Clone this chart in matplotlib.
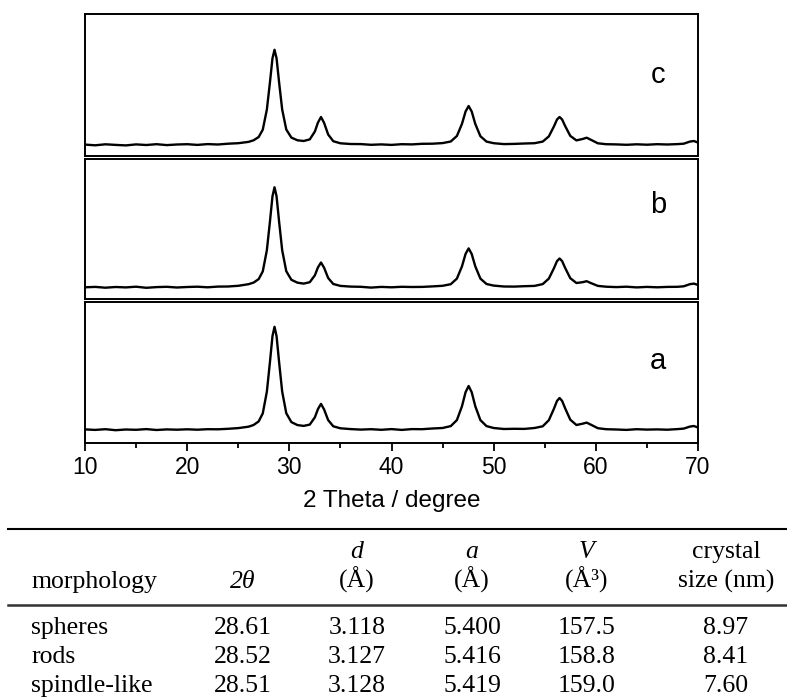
import matplotlib
matplotlib.use("Agg")
import matplotlib.pyplot as plt
from matplotlib.lines import Line2D
from matplotlib.ticker import MultipleLocator

plt.rcParams["font.family"] = ["Liberation Sans", "DejaVu Sans"]

# XRD patterns (intensity in arbitrary units, baseline = 0)
two_theta = [
    10, 11, 12, 13, 14, 15, 16, 17, 18, 19, 20, 21, 22, 23, 24, 25,
    26, 26.5, 27, 27.4, 27.8, 28.1, 28.35, 28.55, 28.75, 29.0, 29.3, 29.7,
    30.2, 30.8, 31.4, 32.0, 32.5, 32.8, 33.1, 33.4, 33.8, 34.3, 35, 36,
    37, 38, 39, 40, 41, 42, 43, 44,
    45, 45.8, 46.4, 46.9, 47.25, 47.55, 47.85, 48.2, 48.7, 49.3, 50, 51,
    52, 53, 54,
    54.8, 55.4, 55.9, 56.2, 56.45, 56.7, 57.0, 57.5, 58.1, 58.7, 59.1, 59.5, 60.2, 61,
    62, 63, 64, 65, 66, 67, 68,
    68.6, 69.2, 69.6, 70,
]
inten_c = [
    0.4, -0.3, 0.7, 0.1, -0.4, 0.6, 0.0, 0.8, -0.1, 0.5, 0.8, 0.1, 0.9, 0.5, 1.3, 1.8,
    3.1, 4.7, 8.0, 15.3, 35.4, 62.4, 86.7, 95.2, 86.7, 62.5, 35.5, 15.5,
    7.4, 4.7, 4.0, 5.6, 13.5, 22.4, 28.0, 22.2, 10.5, 3.8, 1.7, 1.0,
    0.9, 0.2, 0.6, 0.1, 0.8, 0.6, 1.2, 1.3,
    1.9, 3.5, 9.0, 21.2, 33.5, 39.0, 33.5, 21.1, 8.8, 3.4, 1.8, 0.9,
    1.1, 1.5, 1.8,
    3.4, 8.6, 18.6, 25.5, 28.0, 25.5, 18.9, 9.1, 4.6, 6.0, 7.3, 5.3, 1.7, 0.8,
    0.6, 0.2, 0.7, 0.3, 0.8, 0.5, 0.9,
    1.3, 3.4, 4.0, 2.4,
]
inten_b = [
    0.2, 0.6, -0.2, 0.5, 0.1, 0.8, -0.3, 0.4, 0.7, 0.0, 0.5, 0.8, 0.2, 0.9, 1.0, 1.7,
    3.3, 4.9, 8.4, 16.1, 37.2, 65.7, 91.2, 100.2, 91.2, 65.7, 37.3, 16.3,
    7.7, 4.8, 3.9, 5.3, 12.2, 20.1, 25.0, 19.8, 9.5, 3.5, 1.6, 0.9,
    0.7, -0.1, 0.6, 0.2, 0.7, 0.5, 0.6, 1.1,
    1.7, 3.3, 8.9, 21.2, 33.6, 39.1, 33.5, 21.2, 8.9, 3.5, 1.9, 1.0,
    0.9, 1.3, 1.6,
    3.4, 8.9, 19.3, 26.4, 29.0, 26.4, 19.5, 9.3, 4.5, 5.3, 6.3, 4.5, 1.6, 0.8,
    0.4, 0.8, 0.1, 0.6, 0.2, 0.6, 0.7,
    1.2, 3.3, 3.9, 2.5,
]
inten_a = [
    0.6, 0.1, 0.8, -0.2, 0.5, 0.2, 0.9, 0.0, 0.6, 0.3, 0.7, 0.3, 0.8, 0.7, 1.2, 1.9,
    3.3, 5.0, 8.6, 16.6, 38.3, 67.7, 93.9, 103.2, 93.9, 67.7, 38.4, 16.8,
    7.9, 4.9, 4.1, 5.4, 12.7, 20.9, 26.1, 20.6, 9.9, 3.7, 1.7, 0.9,
    0.4, 0.8, 0.2, 0.9, 0.1, 0.9, 0.8, 1.5,
    2.0, 3.9, 9.9, 23.8, 37.8, 44.0, 37.8, 23.8, 9.9, 3.9, 2.0, 1.0,
    1.2, 1.1, 2.0,
    3.7, 9.8, 21.3, 29.1, 32.0, 29.1, 21.6, 10.3, 5.0, 6.3, 7.4, 5.4, 1.8, 0.8,
    0.5, 0.1, 0.8, 0.4, 0.6, 0.3, 0.9,
    1.4, 3.4, 4.0, 2.5,
]
panel_labels = ["c", "b", "a"]

# table under the plot
morphology = ["spheres", "rods", "spindle-like"]
peak_2theta = [28.61, 28.52, 28.51]
d_spacing = [3.118, 3.127, 3.128]
lattice_a = [5.400, 5.416, 5.419]
cell_volume = [157.5, 158.8, 159.0]
crystal_size = [8.97, 8.41, 7.60]

assert len(inten_a) == len(inten_b) == len(inten_c) == len(two_theta)

W, H = 787, 697


def rect(left, top, right, bottom):
    return [left / W, 1 - bottom / H, (right - left) / W, (bottom - top) / H]


def fy(py):
    return 1 - py / H


fig = plt.figure(figsize=(W / 100, H / 100), dpi=100)

# panel boxes in pixels (left, top, right, bottom); y-limits put the baselines where they sit
boxes = [(85, 14, 698, 155.5), (85, 159, 698, 298.5), (85, 302, 698, 443)]
ylims = [(-10.5, 131), (-11, 128.5), (-13, 128)]
label_y = [0.514, 0.614, 0.528]
series = [inten_c, inten_b, inten_a]

for i, (box, yl, ys, lab) in enumerate(zip(boxes, ylims, series, panel_labels)):
    ax = fig.add_axes(rect(*box))
    ax.plot(two_theta, ys, color="black", lw=1.7)
    ax.set_xlim(10, 70)
    ax.set_ylim(*yl)
    for sp in ax.spines.values():
        sp.set_linewidth(1.4)
    ax.tick_params(left=False, labelleft=False)
    ax.text(0.935, label_y[i], lab, transform=ax.transAxes, ha="center",
            va="baseline", fontsize=21)
    if i < 2:
        ax.tick_params(bottom=False, labelbottom=False)
    else:
        ax.xaxis.set_major_locator(MultipleLocator(10))
        ax.xaxis.set_minor_locator(MultipleLocator(5))
        ax.tick_params(axis="x", which="major", direction="out", length=6,
                       width=1.3, labelsize=16.5, pad=3)
        ax.tick_params(axis="x", which="minor", direction="out", length=3.5,
                       width=1.3)

fig.text((85 + 698) / 2 / W, fy(507), "2 Theta / degree", ha="center",
         va="baseline", fontsize=17.5)

# table
serif = dict(family="Liberation Serif", fontsize=18.5)
fig.add_artist(Line2D([8 / W, 1], [fy(529)] * 2, color="black", lw=1.5))
fig.add_artist(Line2D([8 / W, 1], [fy(605)] * 2, color="#333333", lw=1.8))

col_x = [31, 243, 357, 472, 587, 726]
head1 = ["", "", "d", "a", "V", "crystal"]
head2 = ["morphology", "2θ", "(Å)", "(Å)", "(Å³)", "size (nm)"]
for j, x in enumerate(col_x):
    ha = "left" if j == 0 else "center"
    if head1[j]:
        style = "normal" if head1[j] == "crystal" else "italic"
        fig.text(x / W, fy(558), head1[j], ha=ha, va="baseline", style=style, **serif)
    style = "italic" if j == 1 else "normal"
    fig.text(x / W, fy(588), head2[j], ha=ha, va="baseline", style=style, **serif)

row_y = [634, 663, 692]
for r in range(len(morphology)):
    cells = [morphology[r], f"{peak_2theta[r]:.2f}", f"{d_spacing[r]:.3f}",
             f"{lattice_a[r]:.3f}", f"{cell_volume[r]:.1f}", f"{crystal_size[r]:.2f}"]
    for j, x in enumerate(col_x):
        ha = "left" if j == 0 else "center"
        fig.text(x / W, fy(row_y[r]), cells[j], ha=ha, va="baseline", **serif)

fig.savefig("out.png", dpi=100)
plt.close(fig)
